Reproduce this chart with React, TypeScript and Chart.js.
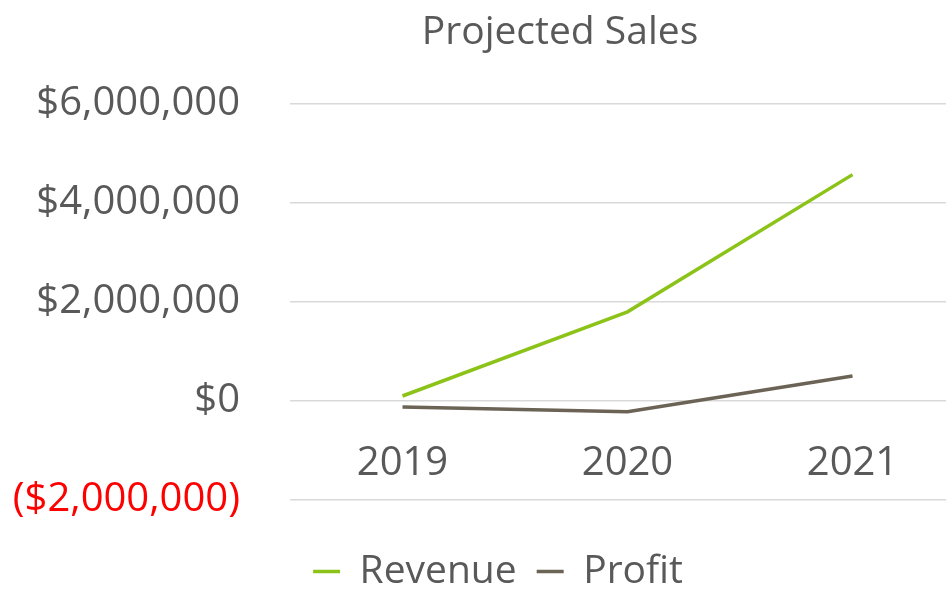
import React, { useEffect, useRef } from "react";
import { Chart, registerables } from "chart.js";

Chart.register(...registerables);

const categories = ["2019", "2020", "2021"];
const revenue = [100000, 1800000, 4570000];
const profit = [-120000, -220000, 505000];
const yTicks = [-2000000, 0, 2000000, 4000000, 6000000];

const TEXT = "#595959";
const FONT = "'Open Sans', sans-serif";

function fmt(v: number): string {
  const s = "$" + Math.abs(v).toLocaleString("en-US");
  return v < 0 ? "(" + s + ")" : s;
}

const shiftLegend = {
  id: "shiftLegend",
  afterLayout(chart: any) {
    const l = chart.legend;
    if (l) {
      l.left -= 62;
      l.right -= 62;
    }
  },
};

export default function App() {
  const ref = useRef<HTMLCanvasElement | null>(null);
  useEffect(() => {
    if (!ref.current) return;
    const chart = new Chart(ref.current, {
      type: "line",
      data: {
        labels: categories,
        datasets: [
          {
            label: "Revenue",
            data: revenue,
            borderColor: "#8cc319",
            backgroundColor: "#8cc319",
            borderWidth: 3.5,
            pointRadius: 0,
            tension: 0,
            yAxisID: "y",
          },
          {
            label: "Profit",
            data: profit,
            borderColor: "#6b6355",
            backgroundColor: "#6b6355",
            borderWidth: 3.5,
            pointRadius: 0,
            tension: 0,
            yAxisID: "y",
          },
        ],
      },
      options: {
        responsive: false,
        animation: false,
        layout: { padding: { left: 0, right: 0, top: 0, bottom: 0 } },
        scales: {
          x: {
            type: "category",
            position: { y: 0 } as any,
            offset: true,
            grid: { display: false, drawTicks: false },
            border: { display: false },
            ticks: {
              color: TEXT,
              padding: 39,
              font: { family: FONT, size: 40 },
            },
          },
          y: {
            position: "left",
            min: -2000000,
            max: 6000000,
            afterBuildTicks: (scale: any) => {
              scale.ticks = yTicks.map((v) => ({ value: v }));
            },
            afterFit: (scale: any) => {
              scale.width = 290;
            },
            grid: { color: "#d9d9d9", lineWidth: 1.5, drawTicks: false },
            border: { display: false },
            ticks: {
              padding: 50,
              color: (ctx: any) => (ctx.tick && ctx.tick.value < 0 ? "#ff0000" : TEXT),
              font: { family: FONT, size: 40 },
              callback: (v: any) => fmt(Number(v)),
            },
          },
          yRight: {
            axis: "y",
            position: "right",
            display: true,
            grid: { display: false, drawTicks: false },
            border: { display: false },
            ticks: { display: false },
            afterFit: (scale: any) => {
              scale.width = 155;
            },
          },
        },
        plugins: {
          title: {
            display: true,
            text: "Projected Sales",
            color: TEXT,
            font: { family: FONT, size: 39, weight: "normal" },
            padding: { top: 9, bottom: 48 },
          },
          legend: {
            position: "bottom",
            title: {
              display: true,
              text: "",
              font: { size: 10 },
              padding: { top: 20, bottom: 0 },
            },
            labels: {
              color: TEXT,
              font: { family: FONT, size: 39 },
              usePointStyle: true,
              pointStyle: "line",
              pointStyleWidth: 27,
              padding: 20,
            },
          },
          tooltip: { enabled: false },
        },
      },
      plugins: [shiftLegend],
    });
    return () => chart.destroy();
  }, []);
  return (
    <div
      style={{
        position: "absolute",
        left: 0,
        top: 0,
        width: 946,
        height: 589,
        overflow: "hidden",
        background: "#fff",
      }}
    >
      <canvas ref={ref} width={1120} height={601} style={{ display: "block" }} />
    </div>
  );
}
